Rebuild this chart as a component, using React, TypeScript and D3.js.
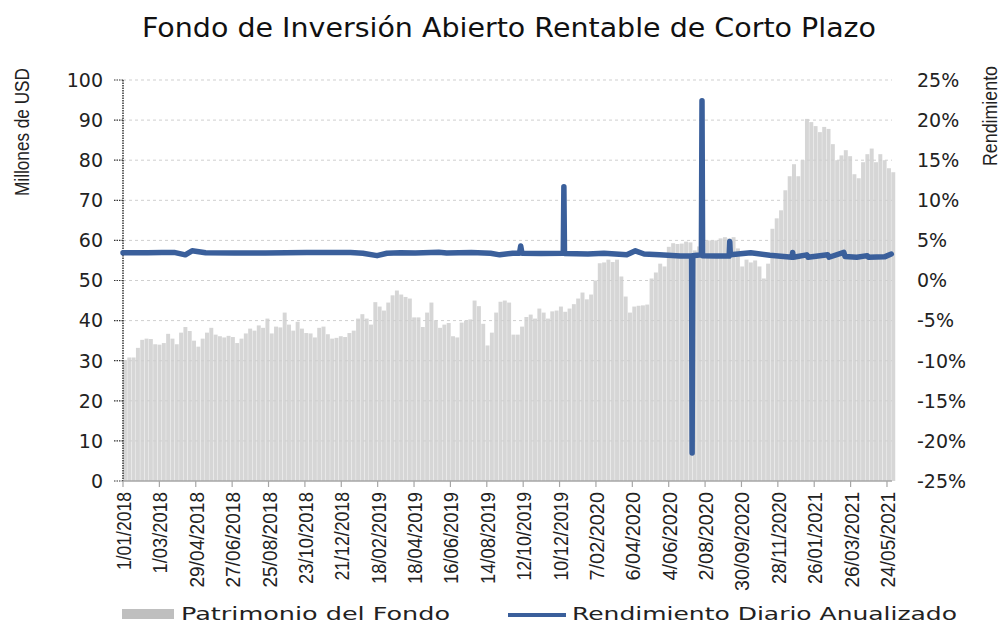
import React from "react";
import * as d3 from "d3";

const TITLE = "Fondo de Inversión Abierto Rentable de Corto Plazo";
const LEFT_TITLE = "Millones de USD";
const RIGHT_TITLE = "Rendimiento";
const SERIES_BARS = "Patrimonio del Fondo";
const SERIES_LINE = "Rendimiento Diario Anualizado";

// Weekly fund assets (millions USD), weeks starting on this date
const WEEK_START = "2018-01-01";
const PATRIMONIO = [
  30.2, 30.8, 30.8, 33.2, 35.2, 35.5, 35.4, 34.1, 34.0, 34.4,
  36.7, 35.5, 34.1, 37.0, 38.4, 37.4, 35.0, 33.5, 35.5, 37.0,
  38.2, 36.5, 36.1, 35.8, 36.2, 35.9, 34.4, 35.5, 36.8, 38.0,
  37.5, 38.8, 38.2, 40.5, 36.8, 38.5, 38.3, 42.0, 39.0, 37.5,
  39.7, 38.0, 36.9, 36.8, 35.8, 38.2, 38.5, 36.6, 35.5, 35.7,
  36.1, 35.9, 36.9, 37.5, 40.5, 41.6, 40.5, 39.0, 44.6, 43.5,
  42.5, 44.5, 46.3, 47.5, 46.5, 45.9, 45.5, 40.8, 40.8, 38.4,
  42.0, 44.5, 40.1, 38.2, 39.0, 39.4, 36.1, 35.8, 39.5, 40.0,
  40.3, 45.0, 43.6, 39.2, 33.8, 37.0, 42.0, 44.7, 45.0, 44.5,
  36.5, 36.5, 38.5, 40.9, 41.5, 40.5, 43.0, 42.0, 40.5, 42.3,
  42.5, 43.5, 42.2, 43.0, 44.1, 45.5, 47.0, 45.3, 46.5, 50.0,
  54.3, 54.5, 55.2, 54.6, 55.2, 51.0, 46.0, 42.0, 43.5, 43.7,
  43.8, 44.0, 50.5, 52.0, 54.2, 53.5, 58.4, 59.3, 59.1, 59.2,
  59.7, 59.5, 57.5, 58.5, 59.7, 60.0, 60.0, 60.0, 60.5, 60.8,
  60.5, 60.8, 58.0, 53.5, 55.2, 54.5, 55.0, 53.5, 50.5, 54.2,
  62.9, 65.5, 67.5, 72.5, 76.0, 79.0, 76.0, 80.0, 90.3, 89.5,
  88.5, 87.0, 88.3, 87.8, 84.0, 80.0, 81.2, 82.5, 81.0, 76.5,
  75.5, 79.5, 81.5, 82.9, 79.5, 81.5, 80.0, 78.0, 77.0,
];

// Annualized daily yield (%)
const RENDIMIENTO_DATES = [
  "2018-01-01", "2018-02-10", "2018-03-05", "2018-03-25", "2018-04-12", "2018-04-23",
  "2018-05-15", "2018-07-01", "2018-08-20", "2018-10-26", "2019-01-05", "2019-01-25",
  "2019-02-17", "2019-03-05", "2019-03-27", "2019-04-20", "2019-05-28", "2019-06-10",
  "2019-07-20", "2019-08-20", "2019-09-04", "2019-09-25", "2019-10-06", "2019-10-08",
  "2019-10-10", "2019-11-10", "2019-12-16", "2019-12-17", "2019-12-18", "2020-01-25",
  "2020-02-20", "2020-03-28", "2020-04-11", "2020-04-25", "2020-05-20", "2020-06-23",
  "2020-07-11", "2020-07-12", "2020-07-13", "2020-07-27", "2020-07-28", "2020-07-29",
  "2020-08-20", "2020-09-10", "2020-09-11", "2020-09-12", "2020-10-15", "2020-11-15",
  "2020-12-21", "2020-12-22", "2020-12-23", "2021-01-14", "2021-01-16", "2021-02-17",
  "2021-02-19", "2021-03-15", "2021-03-17", "2021-04-05", "2021-04-22", "2021-04-24",
  "2021-05-20", "2021-05-31",
];
const RENDIMIENTO_VALUES = [
  3.45, 3.45, 3.5, 3.5, 3.2, 3.7,
  3.45, 3.42, 3.42, 3.5, 3.5, 3.4,
  3.1, 3.4, 3.45, 3.42, 3.52, 3.42,
  3.48, 3.4, 3.2, 3.4, 3.4, 4.3,
  3.4, 3.38, 3.4, 11.7, 3.38, 3.3,
  3.4, 3.2, 3.7, 3.3, 3.2, 3.05,
  3.05, -21.5, 3.1, 3.2, 22.4, 3.1,
  3.05, 3.05, 4.85, 3.2, 3.45, 3.15,
  2.9, 3.5, 2.9, 3.2, 2.9, 3.2,
  2.9, 3.5, 3.0, 2.9, 3.1, 2.9,
  2.95, 3.3,
];

const X_TICK_LABELS = [
  "1/01/2018", "1/03/2018", "29/04/2018", "27/06/2018", "25/08/2018", "23/10/2018",
  "21/12/2018", "18/02/2019", "18/04/2019", "16/06/2019", "14/08/2019", "12/10/2019",
  "10/12/2019", "7/02/2020", "6/04/2020", "4/06/2020", "2/08/2020", "30/09/2020",
  "28/11/2020", "26/01/2021", "26/03/2021", "24/05/2021",
];
const LEFT_TICKS = [0, 10, 20, 30, 40, 50, 60, 70, 80, 90, 100];
const RIGHT_TICKS = [-25, -20, -15, -10, -5, 0, 5, 10, 15, 20, 25];

const W = 1004;
const H = 624;
const PLOT = { left: 123, right: 895, top: 80, bottom: 481 };
const DOMAIN_END = "2021-06-06";
const GRID_RIGHT = 892;

const FONT = "'DejaVu Sans', 'Noto Sans', sans-serif";
const NARROW = "'Liberation Sans', Arial, sans-serif";
const BLUE = "#3A5F9B";

function labelWidth(s: string): number {
  let w = 0;
  for (const c of s) {
    if (c === "1") w += 7;
    else if (c === "/") w += 7.5;
    else w += 10.5;
  }
  return w;
}

export default function App() {
  const parseIso = d3.utcParse("%Y-%m-%d");
  const parseLabel = d3.utcParse("%d/%m/%Y");
  const start = parseIso(WEEK_START) as Date;
  const end = parseIso(DOMAIN_END) as Date;

  const x = d3.scaleUtc().domain([start, end]).range([PLOT.left, PLOT.right]);
  const yL = d3.scaleLinear().domain([0, 100]).range([PLOT.bottom, PLOT.top]);
  const yR = d3.scaleLinear().domain([-25, 25]).range([PLOT.bottom, PLOT.top]);

  const dayPx = x(d3.utcDay.offset(start, 1)) - x(start);
  const bars = PATRIMONIO.map((v, i) => {
    const d0 = d3.utcDay.offset(start, 7 * i);
    return { x0: x(d0), w: dayPx * 6.4, v };
  });

  const linePts = RENDIMIENTO_DATES.map((d, i) => ({
    date: parseIso(d) as Date,
    v: RENDIMIENTO_VALUES[i],
  }));
  const lineGen = d3
    .line<{ date: Date; v: number }>()
    .x((p) => x(p.date))
    .y((p) => yR(p.v));

  const ticks = X_TICK_LABELS.map((l) => ({ label: l, x: x(parseLabel(l) as Date) }));

  return (
    <svg width={W} height={H} style={{ display: "block", position: "absolute", left: 0, top: 0, background: "#fff" }}>
      <rect x={0} y={0} width={W} height={H} fill="#fff" />
      {/* title */}
      <text x={142} y={37} fontFamily={FONT} fontSize={26} fill="#111" textLength={734} lengthAdjust="spacingAndGlyphs">
        {TITLE}
      </text>

      {/* bars */}
      <g>
        {bars.map((b, i) => (
          <rect key={i} x={b.x0} y={yL(b.v)} width={b.w} height={yL(0) - yL(b.v)} fill="#d6d6d6" />
        ))}
      </g>

      {/* gridlines */}
      <g>
        {LEFT_TICKS.filter((t) => t > 0).map((t) => (
          <line key={t} x1={PLOT.left} x2={GRID_RIGHT} y1={yL(t)} y2={yL(t)} stroke="#cfcfcf" strokeWidth={1} strokeDasharray="3 3" />
        ))}
      </g>

      {/* left axis */}
      <line x1={PLOT.left} x2={PLOT.left} y1={PLOT.top} y2={PLOT.bottom} stroke="#333" strokeWidth={1.5} strokeDasharray="1.5 1" />
      {LEFT_TICKS.map((t) => (
        <g key={t}>
          <line x1={PLOT.left - 9} x2={PLOT.left} y1={yL(t)} y2={yL(t)} stroke="#333" strokeWidth={1.2} strokeDasharray="1.5 1" />
          <text x={103} y={yL(t)} dy="0.36em" textAnchor="end" fontFamily={FONT} fontSize={19} fill="#222">
            {t}
          </text>
        </g>
      ))}

      {/* right axis labels */}
      {RIGHT_TICKS.map((t) => (
        <text key={t} x={917} y={yR(t)} dy="0.36em" textAnchor="start" fontFamily={FONT} fontSize={19} fill="#222">
          {`${t}%`}
        </text>
      ))}

      {/* bottom axis */}
      <line x1={PLOT.left} x2={GRID_RIGHT} y1={PLOT.bottom} y2={PLOT.bottom} stroke="#a6a6a6" strokeWidth={1.5} />
      {ticks.map((t) => (
        <g key={t.label}>
          <line x1={t.x} x2={t.x} y1={PLOT.bottom} y2={PLOT.bottom + 6} stroke="#a6a6a6" strokeWidth={1.2} />
          <text
            transform={`translate(${t.x + 8},492) rotate(-90)`}
            textAnchor="end"
            fontFamily={NARROW}
            fontSize={21}
            fill="#222"
            textLength={labelWidth(t.label)}
            lengthAdjust="spacingAndGlyphs"
          >
            {t.label}
          </text>
        </g>
      ))}

      {/* line series */}
      <path d={lineGen(linePts) || ""} fill="none" stroke={BLUE} strokeWidth={5.5} strokeLinejoin="round" strokeLinecap="round" />

      {/* axis titles */}
      <text
        transform="translate(29,132) rotate(-90)"
        textAnchor="middle"
        fontFamily={NARROW}
        fontSize={20}
        fill="#222"
        textLength={128}
        lengthAdjust="spacingAndGlyphs"
      >
        {LEFT_TITLE}
      </text>
      <text
        transform="translate(997,116) rotate(-90)"
        textAnchor="middle"
        fontFamily={NARROW}
        fontSize={20}
        fill="#222"
        textLength={100}
        lengthAdjust="spacingAndGlyphs"
      >
        {RIGHT_TITLE}
      </text>

      {/* legend */}
      <rect x={122} y={609} width={52} height={10} fill="#bfbfbf" />
      <text x={181} y={620} fontFamily={FONT} fontSize={18} fill="#222" textLength={269} lengthAdjust="spacingAndGlyphs">
        {SERIES_BARS}
      </text>
      <line x1={508} x2={566} y1={615} y2={615} stroke={BLUE} strokeWidth={4} />
      <text x={572} y={620} fontFamily={FONT} fontSize={18} fill="#222" textLength={385} lengthAdjust="spacingAndGlyphs">
        {SERIES_LINE}
      </text>
    </svg>
  );
}
